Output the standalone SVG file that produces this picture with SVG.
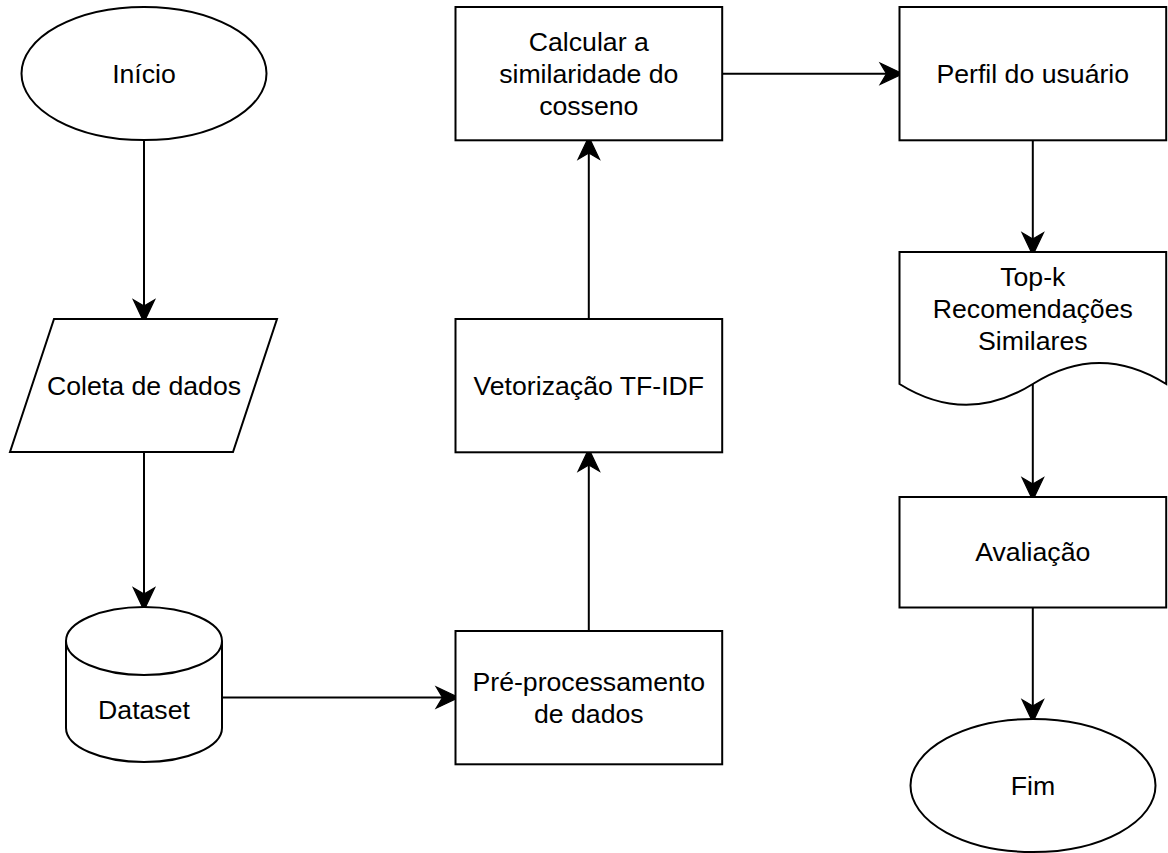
<svg xmlns="http://www.w3.org/2000/svg" width="1168" height="853" viewBox="0 0 1168 853">
  <style>
    .shape { fill: #ffffff; stroke: #000000; stroke-width: 2; }
    .edge { fill: none; stroke: #000000; stroke-width: 2; marker-end: url(#arrow); }
    .label { font-family: "Liberation Sans", Arial, Helvetica, sans-serif; font-size: 26.67px; fill: #000000; text-anchor: middle; dominant-baseline: central; }
  </style>
  <defs>
    <!-- classic notched arrowhead; notch sits on the line end, tip 13px further -->
    <marker id="arrow" markerUnits="userSpaceOnUse" markerWidth="30" markerHeight="30" viewBox="-8 -10 24 20" refX="0" refY="0" orient="auto" overflow="visible">
      <path d="M13,0 L-5,-8.5 L0,0 L-5,8.5 Z" fill="#000000" stroke="#000000" stroke-width="1" stroke-linejoin="miter"/>
    </marker>
  </defs>

  <rect width="1168" height="853" fill="#ffffff"/>

  <!-- connectors -->
  <g id="connectors">
    <path class="edge" d="M144,140 V306"/>
    <path class="edge" d="M144,452 V594"/>
    <path class="edge" d="M222,697.5 H442.5"/>
    <path class="edge" d="M588.8,631 V465"/>
    <path class="edge" d="M588.8,319 V153"/>
    <path class="edge" d="M722,73.7 H886.5"/>
    <path class="edge" d="M1032.8,140.5 V239"/>
    <path class="edge" d="M1032.8,384 V484"/>
    <path class="edge" d="M1032.8,607.5 V706"/>
  </g>

  <!-- start -->
  <g id="inicio">
    <ellipse class="shape" cx="144" cy="73.5" rx="122.5" ry="66.5"/>
    <text class="label" x="144" y="73.5">Início</text>
  </g>

  <!-- data collection (input) -->
  <g id="coleta">
    <polygon class="shape" points="54,319 277,319 233,452 10,452"/>
    <text class="label" x="144" y="385.5">Coleta de dados</text>
  </g>

  <!-- dataset storage -->
  <g id="dataset">
    <path class="shape" d="M66,641 A78,34 0 0 1 222,641 V728 A78,34 0 0 1 66,728 Z"/>
    <path class="shape" fill="none" d="M66,641 A78,34 0 0 0 222,641"/>
    <text class="label" x="144" y="710">Dataset</text>
  </g>

  <!-- preprocessing -->
  <g id="preprocessamento">
    <rect class="shape" x="455.5" y="631" width="266.7" height="133.3"/>
    <text class="label" x="588.8" y="682">Pré-processamento</text>
    <text class="label" x="588.8" y="714">de dados</text>
  </g>

  <!-- TF-IDF vectorisation -->
  <g id="vetorizacao">
    <rect class="shape" x="455.5" y="319" width="266.7" height="133.3"/>
    <text class="label" x="588.8" y="385.7">Vetorização TF-IDF</text>
  </g>

  <!-- cosine similarity -->
  <g id="similaridade">
    <rect class="shape" x="455.5" y="7" width="266.7" height="133.3"/>
    <text class="label" x="588.8" y="41.7">Calcular a</text>
    <text class="label" x="588.8" y="73.7">similaridade do</text>
    <text class="label" x="588.8" y="105.7">cosseno</text>
  </g>

  <!-- user profile -->
  <g id="perfil">
    <rect class="shape" x="899.5" y="7" width="266.7" height="133.3"/>
    <text class="label" x="1032.8" y="73.7">Perfil do usuário</text>
  </g>

  <!-- top-k recommendations (document) -->
  <g id="recomendacoes">
    <path class="shape" d="M899.5,252 H1166.2 V384 Q1099.5,341.9 1032.8,384 Q966.2,425.6 899.5,384 Z"/>
    <text class="label" x="1032.8" y="276.5">Top-k</text>
    <text class="label" x="1032.8" y="308.5">Recomendações</text>
    <text class="label" x="1032.8" y="340.5">Similares</text>
  </g>

  <!-- evaluation -->
  <g id="avaliacao">
    <rect class="shape" x="899.5" y="497" width="266.7" height="110.5"/>
    <text class="label" x="1032.8" y="552">Avaliação</text>
  </g>

  <!-- end -->
  <g id="fim">
    <ellipse class="shape" cx="1033" cy="785.5" rx="122.5" ry="66.5"/>
    <text class="label" x="1033" y="785.5">Fim</text>
  </g>
</svg>
